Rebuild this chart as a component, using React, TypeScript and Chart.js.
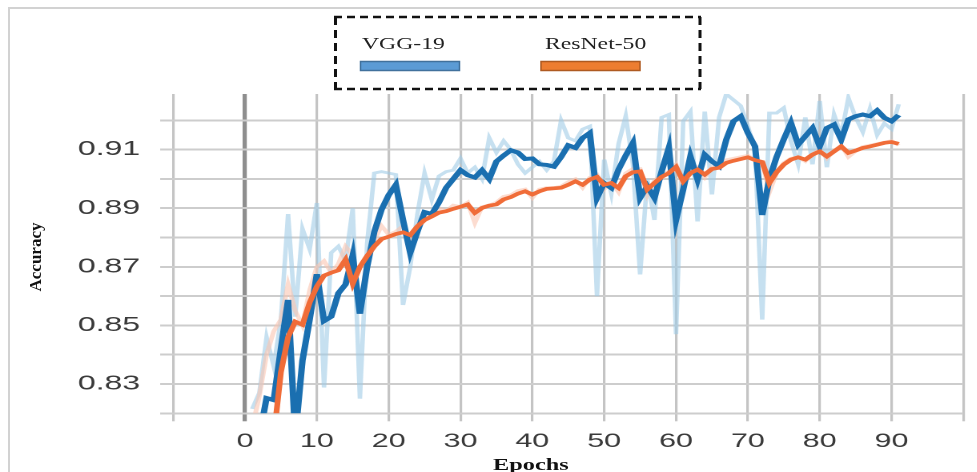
import React, { useEffect, useRef } from 'react';
import { Chart, registerables } from 'chart.js';

Chart.register(...registerables);

// horizontal stretch of the original figure
const S = 1.6;
const PAGE_W = 977;
const PAGE_H = 472;
const W = PAGE_W / S;

const epochs = [
  1, 2, 3, 4, 5, 6, 7, 8, 9, 10, 11, 12, 13, 14, 15, 16, 17, 18, 19, 20,
  21, 22, 23, 24, 25, 26, 27, 28, 29, 30, 31, 32, 33, 34, 35, 36, 37, 38, 39, 40,
  41, 42, 43, 44, 45, 46, 47, 48, 49, 50, 51, 52, 53, 54, 55, 56, 57, 58, 59, 60,
  61, 62, 63, 64, 65, 66, 67, 68, 69, 70, 71, 72, 73, 74, 75, 76, 77, 78, 79, 80,
  81, 82, 83, 84, 85, 86, 87, 88, 89, 90, 91,
];

const vggRaw = [
  0.8215, 0.827, 0.846, 0.836, 0.852, 0.888, 0.853, 0.883, 0.876, 0.8918,
  0.8288, 0.8748, 0.877, 0.872, 0.890, 0.825, 0.878, 0.902, 0.9025, 0.902,
  0.9015, 0.857, 0.870, 0.888, 0.902, 0.893, 0.901, 0.9025, 0.903, 0.907,
  0.902, 0.904, 0.900, 0.914, 0.909, 0.913, 0.910, 0.905, 0.902, 0.904,
  0.906, 0.903, 0.906, 0.920, 0.914, 0.913, 0.917, 0.918, 0.860, 0.9066,
  0.895, 0.912, 0.9215, 0.905, 0.8674, 0.900, 0.886, 0.921, 0.922, 0.847,
  0.9197, 0.923, 0.8855, 0.923, 0.8947, 0.921, 0.929, 0.927, 0.925, 0.918,
  0.910, 0.852, 0.9225, 0.9225, 0.9243, 0.913, 0.905, 0.921, 0.905, 0.9266,
  0.904, 0.922, 0.915, 0.9277, 0.921, 0.916, 0.924, 0.915, 0.919, 0.917,
  0.9255,
];

const vggSmooth = [
  0.805, 0.812, 0.8252, 0.8245, 0.842, 0.8587, 0.812, 0.838, 0.852, 0.8675,
  0.8515, 0.853, 0.861, 0.864, 0.874, 0.854, 0.870, 0.882, 0.8895, 0.8945,
  0.898, 0.886, 0.8748, 0.882, 0.8887, 0.888, 0.892, 0.897, 0.900, 0.903,
  0.9013, 0.9005, 0.903, 0.900, 0.906, 0.908, 0.9098, 0.909, 0.9068, 0.907,
  0.905, 0.9048, 0.9042, 0.9075, 0.9115, 0.9106, 0.914, 0.9157, 0.8935, 0.8986,
  0.8969, 0.9032, 0.908, 0.9123, 0.8935, 0.8975, 0.8935, 0.9026, 0.9106, 0.886,
  0.8964, 0.9077, 0.8998, 0.9083, 0.906, 0.9043, 0.9134, 0.9197, 0.9214, 0.9157,
  0.9111, 0.8877, 0.900, 0.9075, 0.9135, 0.9191, 0.9117, 0.9146, 0.9174, 0.9111,
  0.9174, 0.9186, 0.9134, 0.9203, 0.9214, 0.922, 0.9214, 0.9234, 0.9209, 0.9197,
  0.9218,
];

const resRaw = [
  0.815, 0.826, 0.840, 0.848, 0.852, 0.864, 0.855, 0.850, 0.862, 0.870,
  0.872, 0.868, 0.871, 0.877, 0.874, 0.854, 0.873, 0.879, 0.884, 0.881,
  0.882, 0.884, 0.879, 0.884, 0.887, 0.888, 0.890, 0.889, 0.891, 0.8905,
  0.892, 0.885, 0.8905, 0.891, 0.892, 0.894, 0.8945, 0.896, 0.8965, 0.8935,
  0.8965, 0.897, 0.897, 0.8975, 0.899, 0.900, 0.897, 0.9005, 0.9015, 0.8965,
  0.899, 0.8955, 0.902, 0.9035, 0.9035, 0.8945, 0.8995, 0.9015, 0.9025, 0.905,
  0.898, 0.9025, 0.904, 0.9005, 0.904, 0.9045, 0.9065, 0.907, 0.9075, 0.908,
  0.9065, 0.9058, 0.8955, 0.902, 0.9055, 0.907, 0.9075, 0.906, 0.9085, 0.910,
  0.907, 0.9095, 0.9115, 0.9075, 0.9095, 0.911, 0.9115, 0.912, 0.9125, 0.913,
  0.9115,
];

const resSmooth = [
  0.800, 0.805, 0.810, 0.812, 0.834, 0.846, 0.8513, 0.8502, 0.8578, 0.8633,
  0.867, 0.868, 0.8688, 0.8725, 0.8642, 0.870, 0.8737, 0.877, 0.8795, 0.8803,
  0.8812, 0.8818, 0.8808, 0.8838, 0.886, 0.8872, 0.8885, 0.889, 0.8898, 0.8905,
  0.8913, 0.8884, 0.8901, 0.8909, 0.8913, 0.893, 0.8938, 0.895, 0.8958, 0.8947,
  0.8958, 0.8966, 0.8968, 0.897, 0.898, 0.8992, 0.898, 0.8998, 0.9007, 0.898,
  0.8986, 0.8969, 0.9009, 0.9023, 0.9026, 0.8964, 0.8986, 0.9007, 0.902, 0.9041,
  0.8992, 0.902, 0.9032, 0.9015, 0.9034, 0.9038, 0.9055, 0.9062, 0.9068, 0.9074,
  0.9064, 0.9058, 0.8986, 0.9023, 0.9049, 0.9066, 0.9074, 0.9066, 0.9083, 0.9094,
  0.9077, 0.9094, 0.9111, 0.9089, 0.9097, 0.9106, 0.9111, 0.9117, 0.9123, 0.9126,
  0.912,
];

const xTickValues = [-10, 0, 10, 20, 30, 40, 50, 60, 70, 80, 90, 100];
const xTickLabels = ['', '0', '10', '20', '30', '40', '50', '60', '70', '80', '90', ''];
const yTickValues = [0.82, 0.83, 0.84, 0.85, 0.86, 0.87, 0.88, 0.89, 0.90, 0.91, 0.92];
const yTickLabels = ['', '0.83', '', '0.85', '', '0.87', '', '0.89', '', '0.91', ''];
const seriesNames = ['VGG-19', 'ResNet-50'];
const xTitle = 'Epochs';
const yTitle = 'Accuracy';

const pts = (ys: number[]) => epochs.map((e, i) => ({ x: e, y: ys[i] }));

export default function App() {
  const ref = useRef<HTMLCanvasElement | null>(null);

  useEffect(() => {
    if (!ref.current) return;
    const chart = new Chart(ref.current, {
      type: 'line',
      data: {
        datasets: [
          {
            label: seriesNames[1],
            data: pts(resSmooth),
            borderColor: '#f06c38',
            borderWidth: 3.6,
            pointRadius: 0,
            tension: 0,
          },
          {
            label: seriesNames[0],
            data: pts(vggSmooth),
            borderColor: '#1a6fb0',
            borderWidth: 4,
            pointRadius: 0,
            tension: 0,
          },
          {
            label: seriesNames[1] + ' (raw)',
            data: pts(resRaw),
            borderColor: 'rgba(250, 196, 176, 0.6)',
            borderWidth: 3,
            pointRadius: 0,
            tension: 0,
          },
          {
            label: seriesNames[0] + ' (raw)',
            data: pts(vggRaw),
            borderColor: 'rgba(160, 204, 230, 0.6)',
            borderWidth: 2.8,
            pointRadius: 0,
            tension: 0,
          },
        ],
      },
      options: {
        animation: false,
        responsive: true,
        maintainAspectRatio: false,
        devicePixelRatio: 2,
        layout: { padding: { left: 0, right: W - 970 / S, top: 94, bottom: 0 } },
        plugins: { legend: { display: false }, tooltip: { enabled: false } },
        scales: {
          x: {
            type: 'linear',
            min: -10,
            max: 100,
            afterBuildTicks: (ax: any) => {
              ax.ticks = xTickValues.map((v) => ({ value: v }));
            },
            afterFit: (ax: any) => {
              ax.height = PAGE_H - 413.3;
            },
            ticks: {
              autoSkip: false,
              maxRotation: 0,
              padding: 9,
              color: '#3a3a3a',
              font: { family: '"Liberation Sans", Arial, sans-serif', size: 19 },
              callback: (_v: any, i: number) => xTickLabels[i] ?? '',
            },
            grid: {
              color: (c: any) => (c.tick && c.tick.value === 0 ? '#8e8e8e' : '#c4c4c4'),
              lineWidth: (c: any) => (c.tick && c.tick.value === 0 ? 2.6 : 1.6),
              tickLength: 8,
              drawTicks: true,
            },
            border: { display: false },
          },
          y: {
            type: 'linear',
            min: 0.82,
            max: 0.929,
            afterBuildTicks: (ax: any) => {
              ax.ticks = yTickValues.map((v) => ({ value: v }));
            },
            afterFit: (ax: any) => {
              ax.width = 173 / S;
            },
            ticks: {
              autoSkip: false,
              padding: 12.5,
              color: '#3a3a3a',
              font: { family: '"Liberation Sans", Arial, sans-serif', size: 20 },
              callback: (_v: any, i: number) => yTickLabels[i] ?? '',
            },
            grid: {
              color: '#cdcdcd',
              lineWidth: 2,
              tickLength: 8.1,
              drawTicks: true,
            },
            border: { display: false },
          },
        },
      },
    });
    return () => chart.destroy();
  }, []);

  const serif = '"Liberation Serif", "Times New Roman", serif';

  return (
    <div
      style={{
        position: 'fixed',
        left: 0,
        top: 0,
        width: PAGE_W,
        height: PAGE_H,
        background: '#fff',
        overflow: 'hidden',
      }}
    >
      <div
        style={{
          position: 'absolute',
          left: 8,
          top: 7,
          width: PAGE_W,
          height: PAGE_H + 20,
          borderLeft: '2px solid #d2d2d2',
          borderTop: '2px solid #d2d2d2',
        }}
      />
      <div
        style={{
          position: 'absolute',
          left: 0,
          top: 0,
          width: W,
          height: PAGE_H,
          transform: `scaleX(${S})`,
          transformOrigin: '0 0',
        }}
      >
        <canvas ref={ref} />
      </div>

      <svg
        width={PAGE_W}
        height={PAGE_H}
        style={{ position: 'absolute', left: 0, top: 0, pointerEvents: 'none' }}
      >
        <line x1={334} y1={17} x2={701} y2={17} stroke="#111" strokeWidth={2.3} strokeDasharray="8 5" />
        <line x1={334} y1={89} x2={701} y2={89} stroke="#111" strokeWidth={2.3} strokeDasharray="8 5" />
        <line x1={335.5} y1={17} x2={335.5} y2={89} stroke="#111" strokeWidth={3} strokeDasharray="8 5" />
        <line x1={700} y1={17} x2={700} y2={89} stroke="#111" strokeWidth={3} strokeDasharray="8 5" />
        <rect x={360.5} y={61.5} width={99} height={9} fill="#5b9bd5" stroke="#41719c" strokeWidth={1.5} />
        <rect x={541} y={61.5} width={99} height={9} fill="#ed7d31" stroke="#ae5a21" strokeWidth={1.5} />
      </svg>

      <div
        style={{
          position: 'absolute',
          left: 362,
          top: 36,
          font: `16px ${serif}`,
          lineHeight: '16px',
          color: '#222',
          whiteSpace: 'nowrap',
          transform: 'scaleX(1.48)',
          transformOrigin: '0 0',
        }}
      >
        {seriesNames[0]}
      </div>
      <div
        style={{
          position: 'absolute',
          left: 545,
          top: 36,
          font: `16px ${serif}`,
          lineHeight: '16px',
          color: '#222',
          whiteSpace: 'nowrap',
          transform: 'scaleX(1.48)',
          transformOrigin: '0 0',
        }}
      >
        {seriesNames[1]}
      </div>

      <div
        style={{
          position: 'absolute',
          left: 493,
          top: 457,
          font: `bold 16px ${serif}`,
          lineHeight: '16px',
          color: '#111',
          whiteSpace: 'nowrap',
          transform: 'scaleX(1.52)',
          transformOrigin: '0 0',
        }}
      >
        {xTitle}
      </div>

      <div
        style={{
          position: 'absolute',
          left: 35,
          top: 257,
          font: `bold 17px ${serif}`,
          lineHeight: '17px',
          color: '#111',
          whiteSpace: 'nowrap',
          transform: 'translate(-50%, -50%) rotate(-90deg)',
        }}
      >
        {yTitle}
      </div>
    </div>
  );
}
